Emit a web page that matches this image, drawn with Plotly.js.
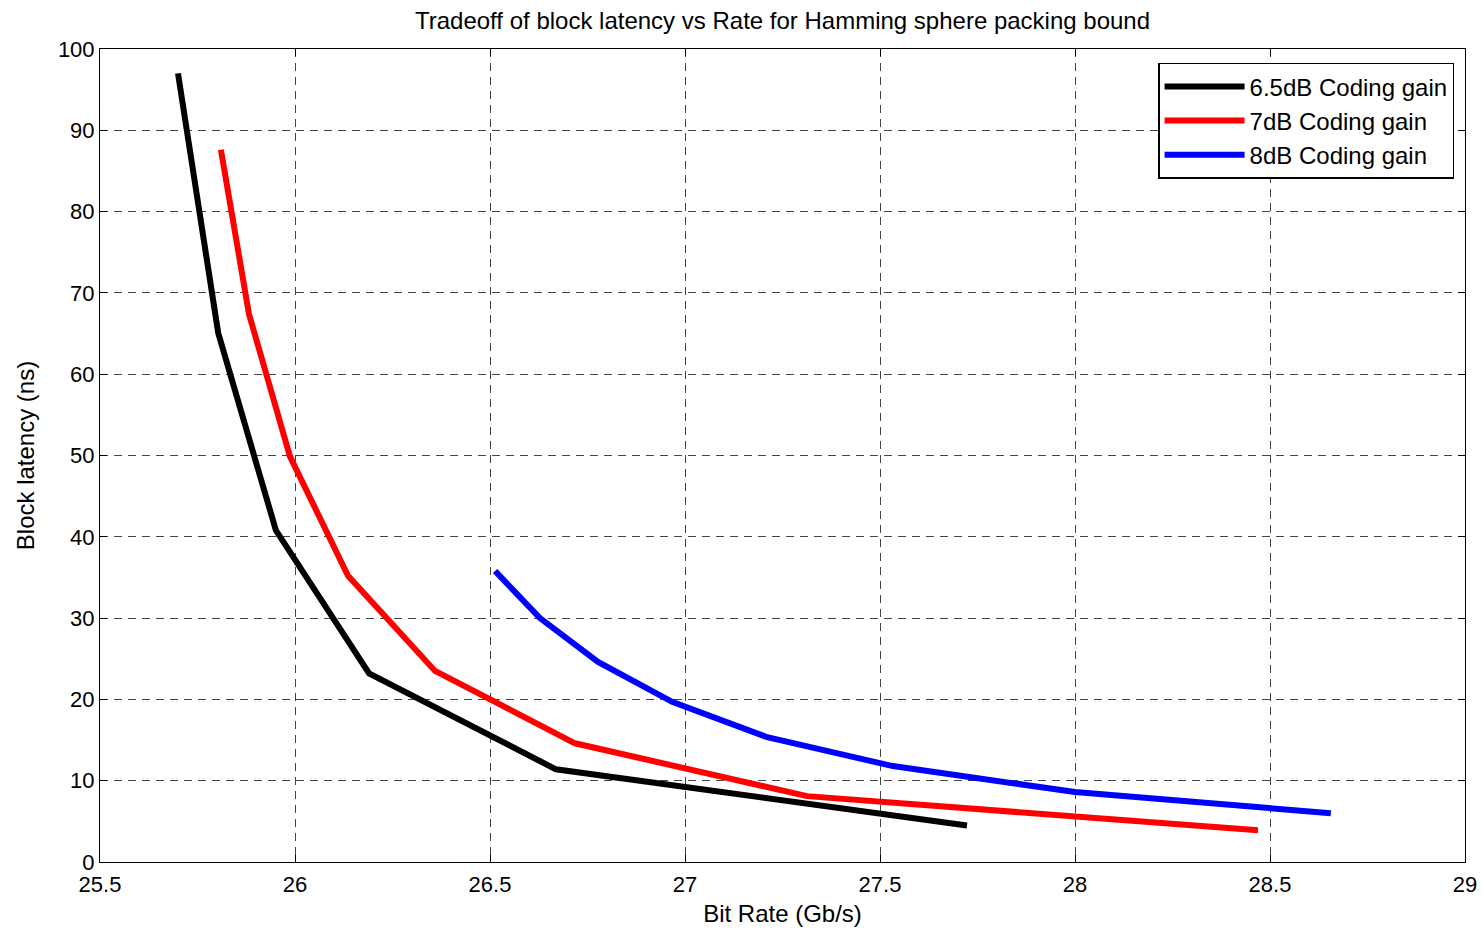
<!DOCTYPE html>
<html>
<head>
<meta charset="utf-8">
<script src="https://cdn.plot.ly/plotly-3.0.1.min.js"></script>
<style>html,body{margin:0;padding:0;background:#fff;}#chart{width:1482px;height:929px;}</style>
</head>
<body>
<div id="chart"></div>
<script>
const rate65 = [25.70, 25.803, 25.951, 26.19, 26.669, 27.723];
const lat65  = [97.0, 65.1, 40.8, 23.2, 11.4, 4.5];
const rate7  = [25.81, 25.882, 25.987, 26.136, 26.359, 26.718, 27.313, 28.469];
const lat7   = [87.6, 67.4, 49.9, 35.2, 23.5, 14.6, 8.1, 3.9];
const rate8  = [26.513, 26.628, 26.777, 26.967, 27.208, 27.533, 28.0, 28.656];
const lat8   = [35.8, 30.0, 24.6, 19.7, 15.4, 11.8, 8.6, 6.0];
const seriesNames = ['6.5dB Coding gain', '7dB Coding gain', '8dB Coding gain'];
const xTicks = [25.5, 26, 26.5, 27, 27.5, 28, 28.5, 29];
const yTicks = [0, 10, 20, 30, 40, 50, 60, 70, 80, 90, 100];

const font = 'Liberation Sans, Arial, sans-serif';
const traces = [
  {x: rate65, y: lat65, name: seriesNames[0], mode: 'lines', line: {color: '#000000', width: 6}},
  {x: rate7, y: lat7, name: seriesNames[1], mode: 'lines', line: {color: '#ff0000', width: 6}},
  {x: rate8, y: lat8, name: seriesNames[2], mode: 'lines', line: {color: '#0000ff', width: 6}}
];
const axisCommon = {
  showline: true, mirror: 'ticks', linecolor: '#000', linewidth: 1,
  ticks: 'inside', ticklen: 7, tickcolor: '#000',
  showgrid: true, gridcolor: '#444', griddash: '8px,6px', gridwidth: 1,
  zeroline: false, tickfont: {family: font, size: 22, color: '#000'}
};
const layout = {
  width: 1482, height: 929,
  paper_bgcolor: '#fff', plot_bgcolor: '#fff',
  margin: {l: 100, r: 17, t: 49, b: 67},
  title: {text: 'Tradeoff of block latency vs Rate for Hamming sphere packing bound',
          font: {family: font, size: 24, color: '#000'}, x: 0.5, xref: 'paper', y: 0.978, yanchor: 'middle'},
  xaxis: Object.assign({}, axisCommon, {range: [25.5, 29], tickvals: xTicks, ticktext: xTicks.map(String),
          ticklabelstandoff: 3,
          title: {text: 'Bit Rate (Gb/s)', font: {family: font, size: 24, color: '#000'}, standoff: 8}}),
  yaxis: Object.assign({}, axisCommon, {range: [0, 100], tickvals: yTicks, ticktext: yTicks.map(String),
          title: {text: 'Block latency (ns)', font: {family: font, size: 24, color: '#000'}, standoff: 16}}),
  legend: {x: 0.992, y: 0.983, xanchor: 'right', yanchor: 'top', bgcolor: '#fff',
           bordercolor: '#000', borderwidth: 1.5, font: {family: font, size: 24, color: '#000'},
           tracegroupgap: 0, itemwidth: 80},
  showlegend: true
};
Plotly.newPlot('chart', traces, layout, {displayModeBar: false, staticPlot: true});
</script>
</body>
</html>
